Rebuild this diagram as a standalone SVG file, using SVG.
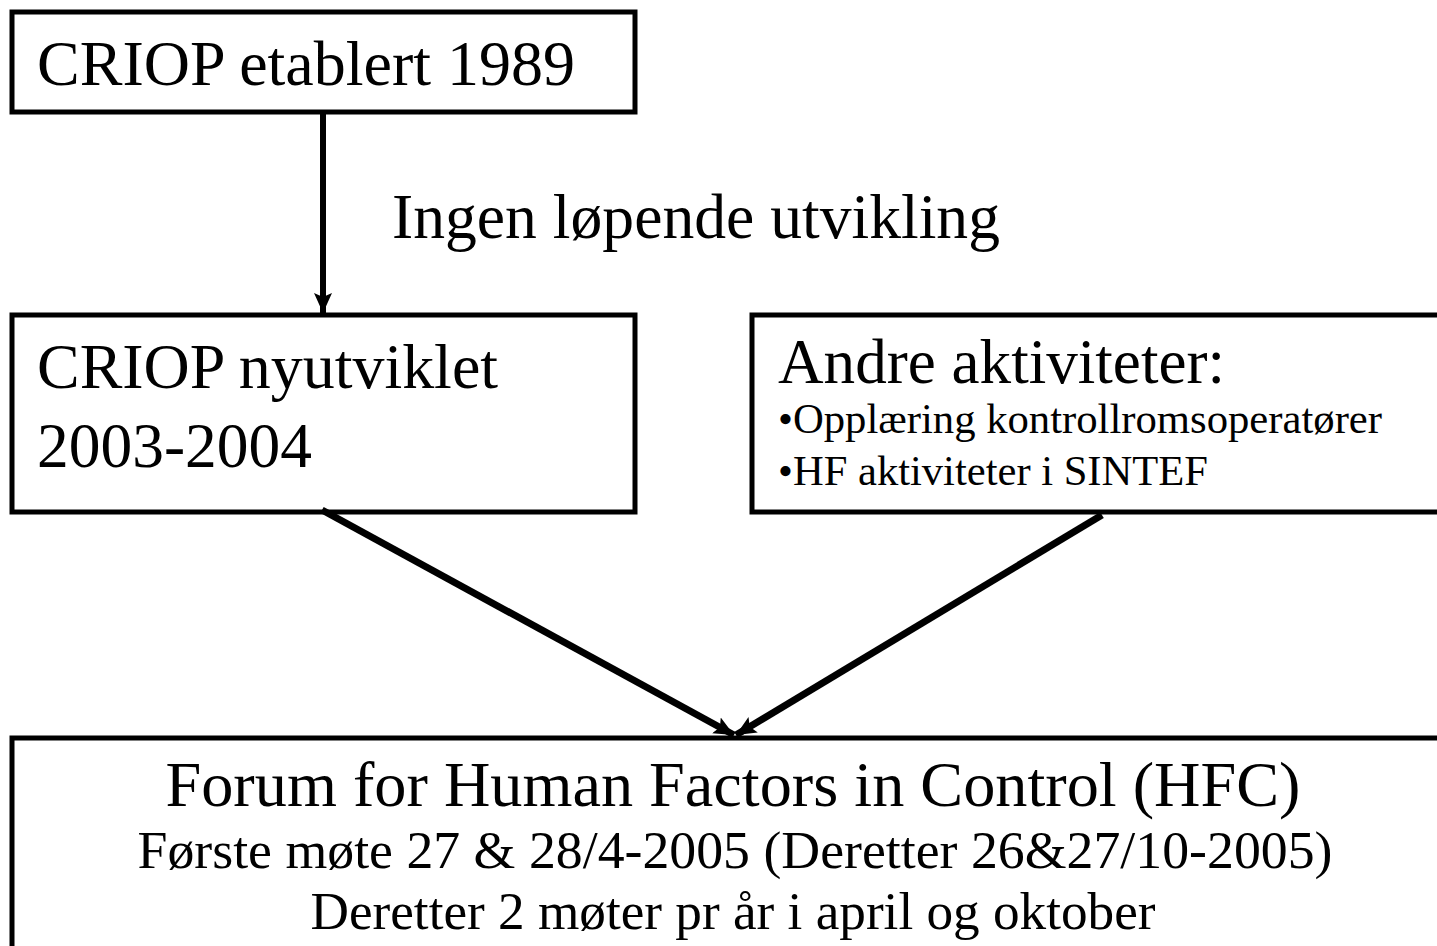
<svg xmlns="http://www.w3.org/2000/svg" width="1437" height="946" viewBox="0 0 1437 946">
<style>
.box{fill:#fff;stroke:#000;stroke-width:5}
.t{font-family:"Liberation Serif","Times New Roman",serif;fill:#000}
.big{font-size:64px}
.small{font-size:42px}
.mid{font-size:52px}
.conn{stroke:#000;fill:none}
</style>
<defs>
<marker id="ah" markerUnits="userSpaceOnUse" markerWidth="24" markerHeight="20" refX="20" refY="9" orient="auto" viewBox="0 0 24 18">
<path d="M0,0 L20,9 L0,18 L4,9 z" fill="#000"/>
</marker>
</defs>
<rect width="1437" height="946" fill="#fff"/>
<g id="node-criop1989">
<rect class="box" x="12" y="12" width="623" height="100"/>
<text class="t big" x="37" y="85" textLength="538" lengthAdjust="spacingAndGlyphs">CRIOP etablert 1989</text>
</g>
<g id="node-criop2003">
<rect class="box" x="12" y="315" width="623" height="197"/>
<text class="t big" x="37" y="388" textLength="461" lengthAdjust="spacingAndGlyphs">CRIOP nyutviklet</text>
<text class="t big" x="37" y="467" textLength="275" lengthAdjust="spacingAndGlyphs">2003-2004</text>
</g>
<g id="node-andre">
<rect class="box" x="752" y="315" width="700" height="197"/>
<text class="t big" x="778" y="383" textLength="447" lengthAdjust="spacingAndGlyphs">Andre aktiviteter:</text>
<text class="t small" x="778" y="433" textLength="604" lengthAdjust="spacingAndGlyphs">•Opplæring kontrollromsoperatører</text>
<text class="t small" x="778" y="485" textLength="430" lengthAdjust="spacingAndGlyphs">•HF aktiviteter i SINTEF</text>
</g>
<g id="node-hfc">
<rect class="box" x="12" y="738" width="1440" height="230"/>
<text class="t big" x="733" y="806" text-anchor="middle" textLength="1135" lengthAdjust="spacingAndGlyphs">Forum for Human Factors in Control (HFC)</text>
<text class="t mid" x="735" y="868" text-anchor="middle" textLength="1195" lengthAdjust="spacingAndGlyphs">Første møte 27 &amp; 28/4-2005 (Deretter 26&amp;27/10-2005)</text>
<text class="t mid" x="733" y="929" text-anchor="middle" textLength="845" lengthAdjust="spacingAndGlyphs">Deretter 2 møter pr år i april og oktober</text>
</g>
<g id="connectors">
<line class="conn" x1="323" y1="112" x2="323" y2="313" stroke-width="6" marker-end="url(#ah)"/>
<line class="conn" x1="322" y1="510" x2="734" y2="735" stroke-width="7" marker-end="url(#ah)"/>
<line class="conn" x1="1102" y1="515" x2="736" y2="735" stroke-width="7" marker-end="url(#ah)"/>
<text class="t big" x="392" y="238" textLength="608" lengthAdjust="spacingAndGlyphs">Ingen løpende utvikling</text>
</g>
</svg>
